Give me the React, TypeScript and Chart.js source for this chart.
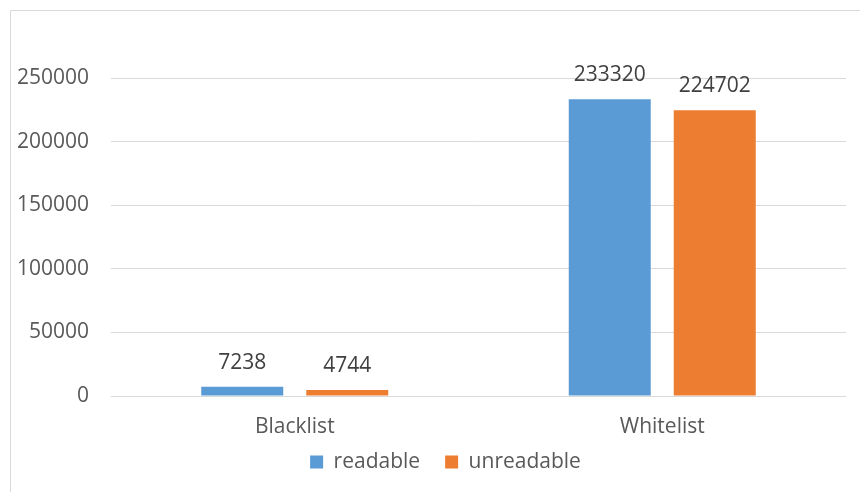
import React, { useEffect, useRef } from "react";
import { Chart, registerables } from "chart.js";

Chart.register(...registerables);

const categories = ["Blacklist", "Whitelist"];
const readable = [7238, 233320];
const unreadable = [4744, 224702];
const seriesNames = ["readable", "unreadable"];
const yTicks = [0, 50000, 100000, 150000, 200000, 250000];

const FONT = "'Open Sans', 'Liberation Sans', sans-serif";

const framePlugin = {
  id: "frame",
  beforeDraw(chart: any) {
    const ctx = chart.ctx;
    ctx.save();
    ctx.fillStyle = "#ffffff";
    ctx.fillRect(0, 0, chart.width, chart.height);
    ctx.strokeStyle = "#d9d9d9";
    ctx.lineWidth = 1;
    ctx.beginPath();
    ctx.moveTo(10.5, chart.height);
    ctx.lineTo(10.5, 10.5);
    ctx.lineTo(chart.width, 10.5);
    ctx.stroke();
    ctx.restore();
  },
};

const legendShift = {
  id: "legendShift",
  afterLayout(chart: any) {
    const lg = chart.legend;
    if (!lg) return;
    lg.left += 22.5;
    lg.right += 22.5;
    lg.top -= 13.5;
    lg.bottom -= 13.5;
  },
};

const valueLabels = {
  id: "valueLabels",
  afterDatasetsDraw(chart: any) {
    const ctx = chart.ctx;
    ctx.save();
    ctx.font = `21px ${FONT}`;
    ctx.fillStyle = "#404040";
    ctx.textAlign = "center";
    ctx.textBaseline = "alphabetic";
    chart.data.datasets.forEach((ds: any, i: number) => {
      const meta = chart.getDatasetMeta(i);
      meta.data.forEach((bar: any, j: number) => {
        ctx.fillText(String(ds.data[j]), bar.x, bar.y - 18);
      });
    });
    ctx.restore();
  },
};

export default function App() {
  const ref = useRef<HTMLCanvasElement | null>(null);
  useEffect(() => {
    document.body.style.margin = "0";
    if (!ref.current) return;
    const chart = new Chart(ref.current, {
      type: "bar",
      data: {
        labels: categories,
        datasets: [
          {
            label: seriesNames[0],
            data: readable,
            backgroundColor: "#5B9BD5",
            categoryPercentage: 0.5714,
            barPercentage: 0.781,
          },
          {
            label: seriesNames[1],
            data: unreadable,
            backgroundColor: "#ED7D31",
            categoryPercentage: 0.5714,
            barPercentage: 0.781,
          },
        ],
      },
      options: {
        responsive: false,
        animation: false,
        layout: { padding: { top: 78, right: 14, left: 0, bottom: -4 } },
        plugins: {
          tooltip: { enabled: false },
          legend: {
            position: "bottom",
            labels: {
              boxWidth: 13,
              boxHeight: 13,
              padding: 25,
              color: "#595959",
              font: { family: FONT, size: 21 },
            },
          },
        },
        scales: {
          x: {
            grid: { display: false, drawTicks: false },
            border: { display: false },
            ticks: {
              color: "#595959",
              font: { family: FONT, size: 21 },
              padding: 18,
            },
            afterFit(s: any) {
              s.height = 44;
            },
          },
          y: {
            min: 0,
            max: 250000,
            afterBuildTicks(s: any) {
              s.ticks = yTicks.map((v) => ({ value: v }));
            },
            grid: { color: "#d9d9d9", drawTicks: false, lineWidth: 1 },
            border: { display: false },
            ticks: {
              color: "#595959",
              font: { family: FONT, size: 21 },
              padding: 22,
              callback: (v: any) => String(v),
            },
            afterFit(s: any) {
              s.width = 111;
            },
          },
        },
      },
      plugins: [framePlugin, legendShift, valueLabels],
    });
    return () => chart.destroy();
  }, []);
  return (
    <div style={{ width: 860, height: 492 }}>
      <canvas ref={ref} width={860} height={492} style={{ display: "block" }} />
    </div>
  );
}
